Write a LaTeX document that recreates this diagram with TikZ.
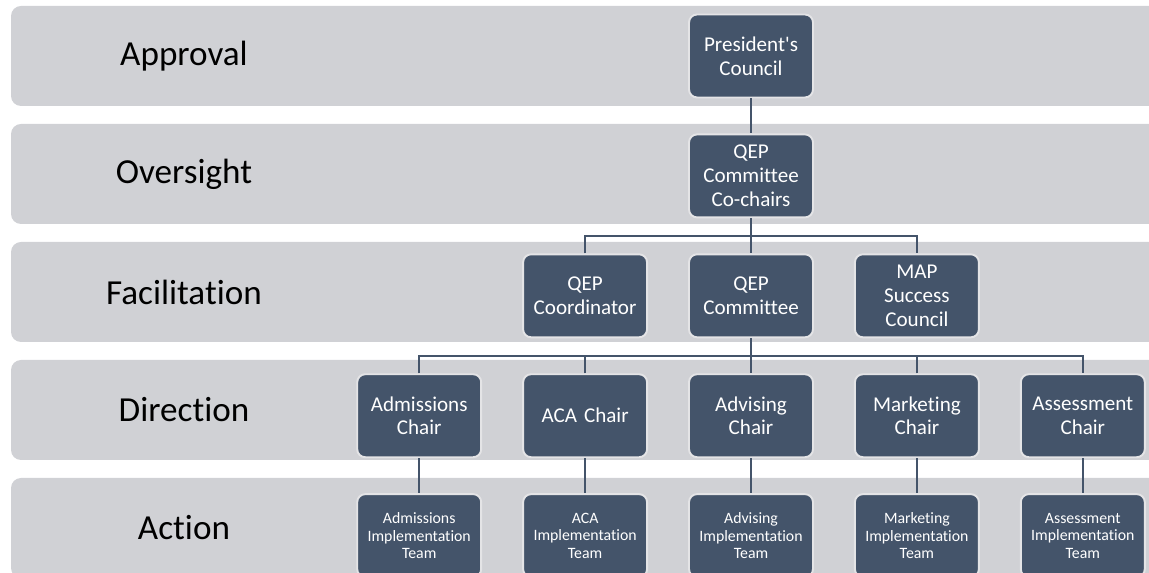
\documentclass[tikz,border=0pt]{standalone}
\usepackage{fontspec}
\setmainfont{Carlito}[Ligatures={NoCommon,TeXOff}]
\usepackage{tikz}
\usetikzlibrary{positioning, calc}
\definecolor{slate}{HTML}{44546A}
\definecolor{bandgray}{HTML}{D0D1D5}
\definecolor{rimgray}{HTML}{E4E4E6}
\tikzstyle{link} = [line width=1.4pt, draw=slate]
\tikzstyle{band} = [fill=bandgray, rounded corners=0.2cm]
\tikzstyle{tier} = [text=black, font=\fontsize{20}{24}\selectfont]
\tikzstyle{unit} = [rectangle, rounded corners=0.16cm, minimum width=2.48cm, minimum height=1.66cm, text width=2.3cm, inner sep=0pt, align=center, fill=slate, draw=rimgray, line width=1.1pt, text=white, font=\fontsize{12}{13.5}\selectfont]
\tikzstyle{team} = [unit, font=\fontsize{9}{10}\selectfont]

\begin{document}
\begin{tikzpicture}[x=0.02cm, y=-0.02cm]
    \useasboundingbox (0,0) rectangle (1149,573);
    \clip (0,0) rectangle (1149,573);

    % Tiers
    \foreach \yc/\lab in {56/Approval, 174/Oversight, 292/Facilitation, 410/Direction, 528/Action} {
        \fill[band] (11,\yc-50) rectangle (1190,\yc+50);
        \node[tier] (l\lab) at (184,\yc) {\lab};
    }

    % Approval and oversight
    \node[unit] (pres) at (751,56) {President's\\Council};
    \node[unit, below=0.7cm of pres] (cochairs) {QEP\\Committee\\Co-chairs};

    % Facilitation
    \node[unit, below=0.7cm of cochairs] (committee) {QEP\\Committee};
    \node[unit, left=0.8cm of committee] (coord) {QEP\\Coordinator};
    \node[unit, right=0.8cm of committee] (map) {MAP\\Success\\Council};

    % Direction
    \node[unit, below=0.7cm of committee] (advising) {Advising\\Chair};
    \node[unit, left=0.8cm of advising] (aca) {ACA Chair};
    \node[unit, left=0.8cm of aca] (admissions) {Admissions\\Chair};
    \node[unit, right=0.8cm of advising] (marketing) {Marketing\\Chair};
    \node[unit, right=0.8cm of marketing] (assessment) {Assessment\\Chair};

    % Action
    \node[team, below=0.7cm of admissions] (tadmissions) {Admissions\\Implementation\\Team};
    \node[team, below=0.7cm of aca] (taca) {ACA\\Implementation\\Team};
    \node[team, below=0.7cm of advising] (tadvising) {Advising\\Implementation\\Team};
    \node[team, below=0.7cm of marketing] (tmarketing) {Marketing\\Implementation\\Team};
    \node[team, below=0.7cm of assessment] (tassessment) {Assessment\\Implementation\\Team};

    % Links
    \coordinate (fbus) at ($(cochairs.south)!0.5!(committee.north)$);
    \coordinate (dbus) at ($(committee.south)!0.5!(advising.north)$);
    \draw[link] (pres) -- (cochairs);
    \draw[link] (cochairs) -- (committee);
    \draw[link] (coord.north) |- (fbus) -| (map.north);
    \draw[link] (committee) -- (advising);
    \draw[link] (admissions.north) |- (dbus) -| (assessment.north);
    \draw[link] (aca.north) -- (aca.north |- dbus);
    \draw[link] (marketing.north) -- (marketing.north |- dbus);
    \foreach \c in {admissions, aca, advising, marketing, assessment}
        \draw[link] (\c) -- (t\c);

\end{tikzpicture}
\end{document}
